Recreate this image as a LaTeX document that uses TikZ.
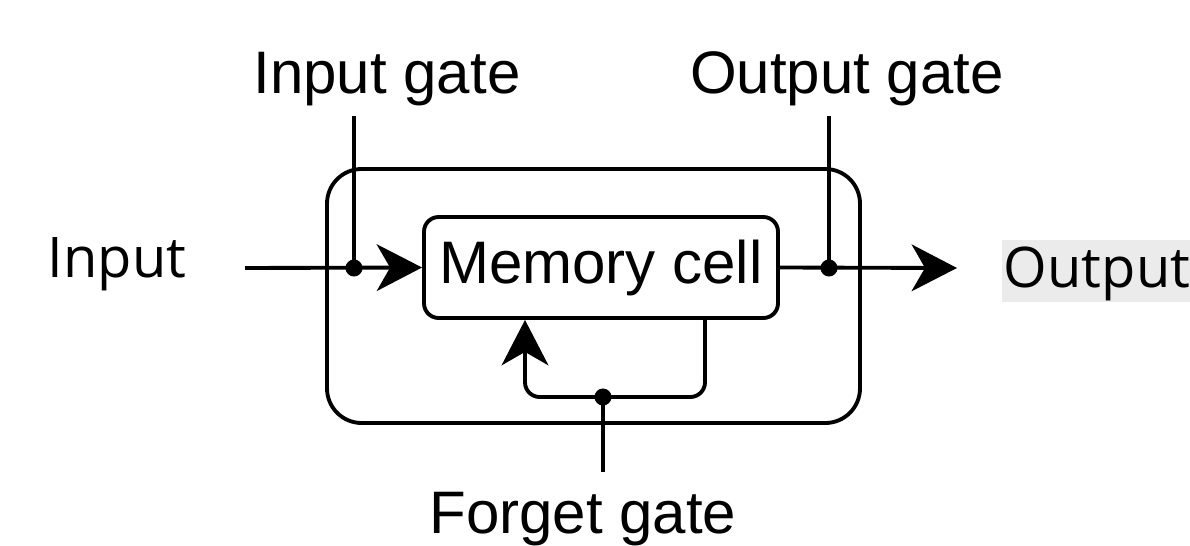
\documentclass[tikz,border=0pt]{standalone}
\usepackage{fontspec}
\setmainfont{Liberation Sans}
\newfontfamily\osans{Open Sans}
\usetikzlibrary{arrows.meta,calc}
\definecolor{outbg}{HTML}{EBEBEB}
\tikzset{
  wire/.style={line width=2.9pt, line cap=butt},
  arr/.style={wire, -{Stealth[length=34pt, width=35pt, inset=10pt]}},
  boxshape/.style={draw, line width=2.9pt, inner sep=0pt},
  dotnode/.style={circle, fill=black, inner sep=0pt, minimum size=12.8pt},
  lbl/.style={font=\fontsize{45pt}{54pt}\selectfont, inner sep=0pt, anchor=base},
  slbl/.style={font=\osans\fontsize{42pt}{52pt}\selectfont, inner sep=0pt, anchor=base}
}
\begin{document}
\begin{tikzpicture}[x=0.75pt,y=-0.75pt]
\useasboundingbox (0,0) rectangle (1190,546);
% outer box
\node[boxshape, rounded corners=26pt, minimum width=399.75pt, minimum height=190.5pt] (outer) at (593.5,296) {};
% memory cell
\node[boxshape, rounded corners=11pt, minimum width=265.5pt, minimum height=75.75pt, font=\fontsize{45pt}{54pt}\selectfont] (mc) at (601,267.5) {Memory cell};
% labels
\node[lbl] (ig) at (387,93) {Input gate};
\node[lbl] (og) at (847,93) {Output gate};
\node[lbl] (fg) at (583,533) {Forget gate};
\node[slbl] (in) at (117,277) {Input};
\node[font=\osans\fontsize{42pt}{52pt}\selectfont, anchor=base, fill=outbg, inner xsep=1.5pt, inner ysep=0pt, text height=35pt, text depth=11pt] (out) at (1097,287) {Output};
% dots
\node[dotnode] (d1) at (354,268) {};
\node[dotnode] (d2) at (829,268) {};
\node[dotnode] (d3) at (603,397) {};
% coordinates
\coordinate (inS) at (245,268);
\coordinate (igT) at (354,116);
\coordinate (ogT) at (829,116);
\coordinate (outE) at (957,268);
\coordinate (fgB) at (603,472);
\coordinate (fr) at (705,397);
\coordinate (fl) at (525,397);
% connectors
\draw[arr] (inS) -- (mc.west);
\draw[wire] (igT) -- (d1.center);
\draw[arr] (mc.east) -- (outE);
\draw[wire] (ogT) -- (d2.center);
\draw[arr, rounded corners=11pt] (mc.south -| fr) -- (fr) -- (fl) -- (mc.south -| fl);
\draw[wire] (d3.center) -- (fgB);
\end{tikzpicture}
\end{document}
